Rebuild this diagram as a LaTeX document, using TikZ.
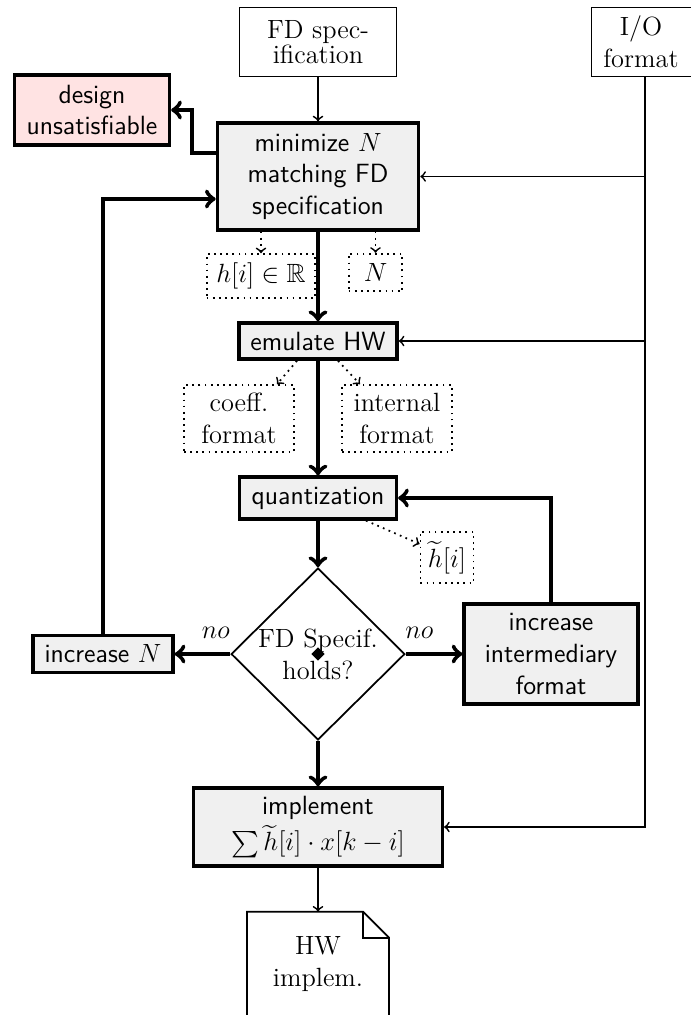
\documentclass[tikz,border=0pt,12pt]{standalone}
\usepackage{amssymb}
\usetikzlibrary{positioning,shapes.geometric}

\begin{document}
\begin{tikzpicture}[on grid,inner sep=2pt,
        plain/.style = {draw, thin, align=center},
        proc/.style = {draw, line width=1.5pt, fill=black!6, align=center, font=\sffamily},
        param/.style = {draw, thick, dotted, align=center},
        test/.style = {draw, thick, diamond, minimum width=2.78cm, minimum height=2.75cm},
        flow/.style = {->, line width=2pt},
        feed/.style = {->, thick},
        aux/.style = {->, thick, dotted}]
        \useasboundingbox (0,0) rectangle (11.056,-16.24);

        \node[plain, minimum width=2.5cm, minimum height=1.1cm](spec) at (5.088,-0.672){FD spec-\\[-3pt]ification};
        \node[plain, minimum width=1.6cm, minimum height=1.1cm](io)[right=5.168cm of spec]{I/O\\format};
        \node[proc, minimum width=3.22cm, minimum height=1.71cm](min)[below=2.152cm of spec]{minimize $N$\\matching FD\\specification};
        \node[proc, fill=red!11, minimum width=2.48cm, minimum height=1.12cm](unsat)[above left=1.064cm and 3.616cm of min]{design\\unsatisfiable};
        \node[param, minimum width=1.74cm, minimum height=0.7cm](hreal)[below left=1.592cm and 0.912cm of min]{$h[i]\in\mathbb{R}$};
        \node[param, minimum width=0.86cm, minimum height=0.6cm](nval)[below right=1.536cm and 0.92cm of min]{$N$};
        \node[proc, minimum width=2.53cm, minimum height=0.58cm](emu)[below=2.632cm of min]{emulate HW};
        \node[param, minimum width=1.76cm, minimum height=1.07cm](coeff)[below left=1.24cm and 1.264cm of emu]{coeff.\\format};
        \node[param, minimum width=1.76cm, minimum height=1.07cm](intern)[below right=1.24cm and 1.264cm of emu]{internal\\format};
        \node[proc, minimum width=2.51cm, minimum height=0.67cm](quant)[below=2.512cm of emu]{quantization};
        \node[param, minimum width=0.85cm, minimum height=0.82cm](htil)[below right=0.952cm and 2.064cm of quant]{$\widetilde{h}[i]$};
        \node[test, label={[align=center]center:{FD Specif.\\holds?}}](dia)[below=2.496cm of quant]{};
        \node[diamond, fill, inner sep=0pt, minimum size=0.22cm](mark) at (dia){};
        \node[proc, minimum width=2.24cm, minimum height=0.59cm](incn)[left=3.44cm of dia]{increase $N$};
        \node[proc, minimum width=2.78cm, minimum height=1.6cm](incf)[right=3.728cm of dia]{increase\\intermediary\\format};
        \node[proc, minimum width=3.98cm, minimum height=1.25cm](impl)[below=2.768cm of dia]{implement\\[2pt]$\sum\widetilde{h}[i]\cdot x[k-i]$};
        \node[minimum width=2.26cm, minimum height=1.66cm, align=center](doc)[below=2.192cm of impl]{HW\\implem.};

        \draw[thick] (doc.south west) -- (doc.north west) -- ([xshift=-0.416cm]doc.north east)
                -- ([yshift=-0.416cm]doc.north east) -- (doc.south east) -- cycle;
        \draw[thick] ([xshift=-0.416cm]doc.north east) |- ([yshift=-0.416cm]doc.north east);

        \path[flow]
        (min) edge (emu)
        (emu) edge (quant)
        (quant) edge (dia)
        (dia) edge (impl)
        (dia) edge node[above=4pt, pos=0.26]{$no$} (incn)
        (dia) edge node[above=4pt, pos=0.24]{$no$} (incf)
        ;
        \draw[flow] ([yshift=0.376cm]min.west) -- ++(-0.384,0) |- (unsat);
        \draw[flow] (incn) |- ([yshift=-0.36cm]min.west);
        \draw[flow] (incf) |- (quant);

        \path[feed]
        (spec) edge (min)
        (impl) edge (doc)
        ;
        \draw[feed] ([xshift=0.064cm]io.south) |- (min);
        \draw[feed] ([xshift=0.064cm]io.south) |- (emu);
        \draw[feed] ([xshift=0.064cm]io.south) |- (impl);

        \draw[aux] (hreal |- min.south) -- (hreal);
        \draw[aux] (nval |- min.south) -- (nval);
        \draw[aux] ([xshift=-0.336cm]emu.south) -- ([xshift=0.608cm]coeff.north);
        \draw[aux] ([xshift=0.32cm]emu.south) -- ([xshift=-0.592cm]intern.north);
        \draw[aux] ([xshift=0.768cm]quant.south) -- ([yshift=0.216cm]htil.west);
\end{tikzpicture}
\end{document}
